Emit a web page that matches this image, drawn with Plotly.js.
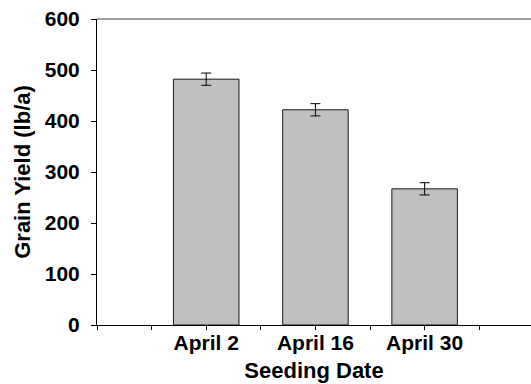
<!DOCTYPE html>
<html>
<head>
<meta charset="utf-8">
<script src="https://cdn.plot.ly/plotly-3.0.1.min.js"></script>
<style>html,body{margin:0;padding:0;background:#fff;}#chart{width:531px;height:384px;}</style>
</head>
<body>
<div id="chart"></div>
<script>
var categories = ["April 2", "April 16", "April 30"];
var grainYield = [482, 422, 267];
var yieldError = [12, 12, 12];
var yTickValues = [0, 100, 200, 300, 400, 500, 600];

var FONT = "Liberation Sans, Arial, sans-serif";

var traces = [
  {
    type: "bar",
    x: categories,
    y: grainYield,
    marker: {color: "#c0c0c0", line: {color: "#1a1a1a", width: 1}},
    error_y: {type: "data", array: yieldError, visible: true, color: "#000", thickness: 1, width: 5},
    showlegend: false,
    hoverinfo: "x+y"
  },
  {
    type: "scatter",
    x: [],
    y: [],
    xaxis: "x2",
    yaxis: "y",
    showlegend: false,
    hoverinfo: "skip"
  }
];

var layout = {
  width: 531,
  height: 384,
  margin: {l: 97, r: 0, t: 19, b: 59, pad: 0},
  paper_bgcolor: "#ffffff",
  plot_bgcolor: "#ffffff",
  bargap: 0.4,
  font: {family: FONT, size: 21, color: "#000"},
  xaxis: {
    type: "category",
    range: [-1, 2.974],
    showline: true,
    linecolor: "#000",
    linewidth: 1,
    ticks: "",
    showgrid: false,
    zeroline: false,
    tickfont: {family: FONT, size: 21, color: "#000", weight: "bold"},
    ticklabelstandoff: -1,
    title: {text: "<b>Seeding Date</b>", font: {family: FONT, size: 22, color: "#000"}, standoff: 9},
    fixedrange: true
  },
  xaxis2: {
    type: "linear",
    overlaying: "x",
    anchor: "y",
    side: "bottom",
    range: [-1, 2.974],
    tick0: -1,
    dtick: 0.5,
    ticks: "outside",
    ticklen: 4,
    tickcolor: "#000",
    tickwidth: 1,
    showticklabels: false,
    showline: false,
    showgrid: false,
    zeroline: false,
    fixedrange: true
  },
  yaxis: {
    range: [0, 600],
    tickmode: "array",
    tickvals: yTickValues,
    ticks: "outside",
    ticklen: 5,
    tickcolor: "#000",
    showline: true,
    linecolor: "#000",
    linewidth: 1,
    showgrid: false,
    zeroline: false,
    tickfont: {family: FONT, size: 21, color: "#000", weight: "bold"},
    ticklabelstandoff: 7,
    title: {text: "<b>Grain Yield (lb/a)</b>", font: {family: FONT, size: 22, color: "#000"}, standoff: 8},
    fixedrange: true
  },
  shapes: [
    {type: "line", xref: "paper", yref: "paper", x0: 0, x1: 1, y0: 1, y1: 1,
     line: {color: "#808080", width: 1.5}}
  ]
};

Plotly.newPlot("chart", traces, layout, {displayModeBar: false, staticPlot: true});
</script>
</body>
</html>
